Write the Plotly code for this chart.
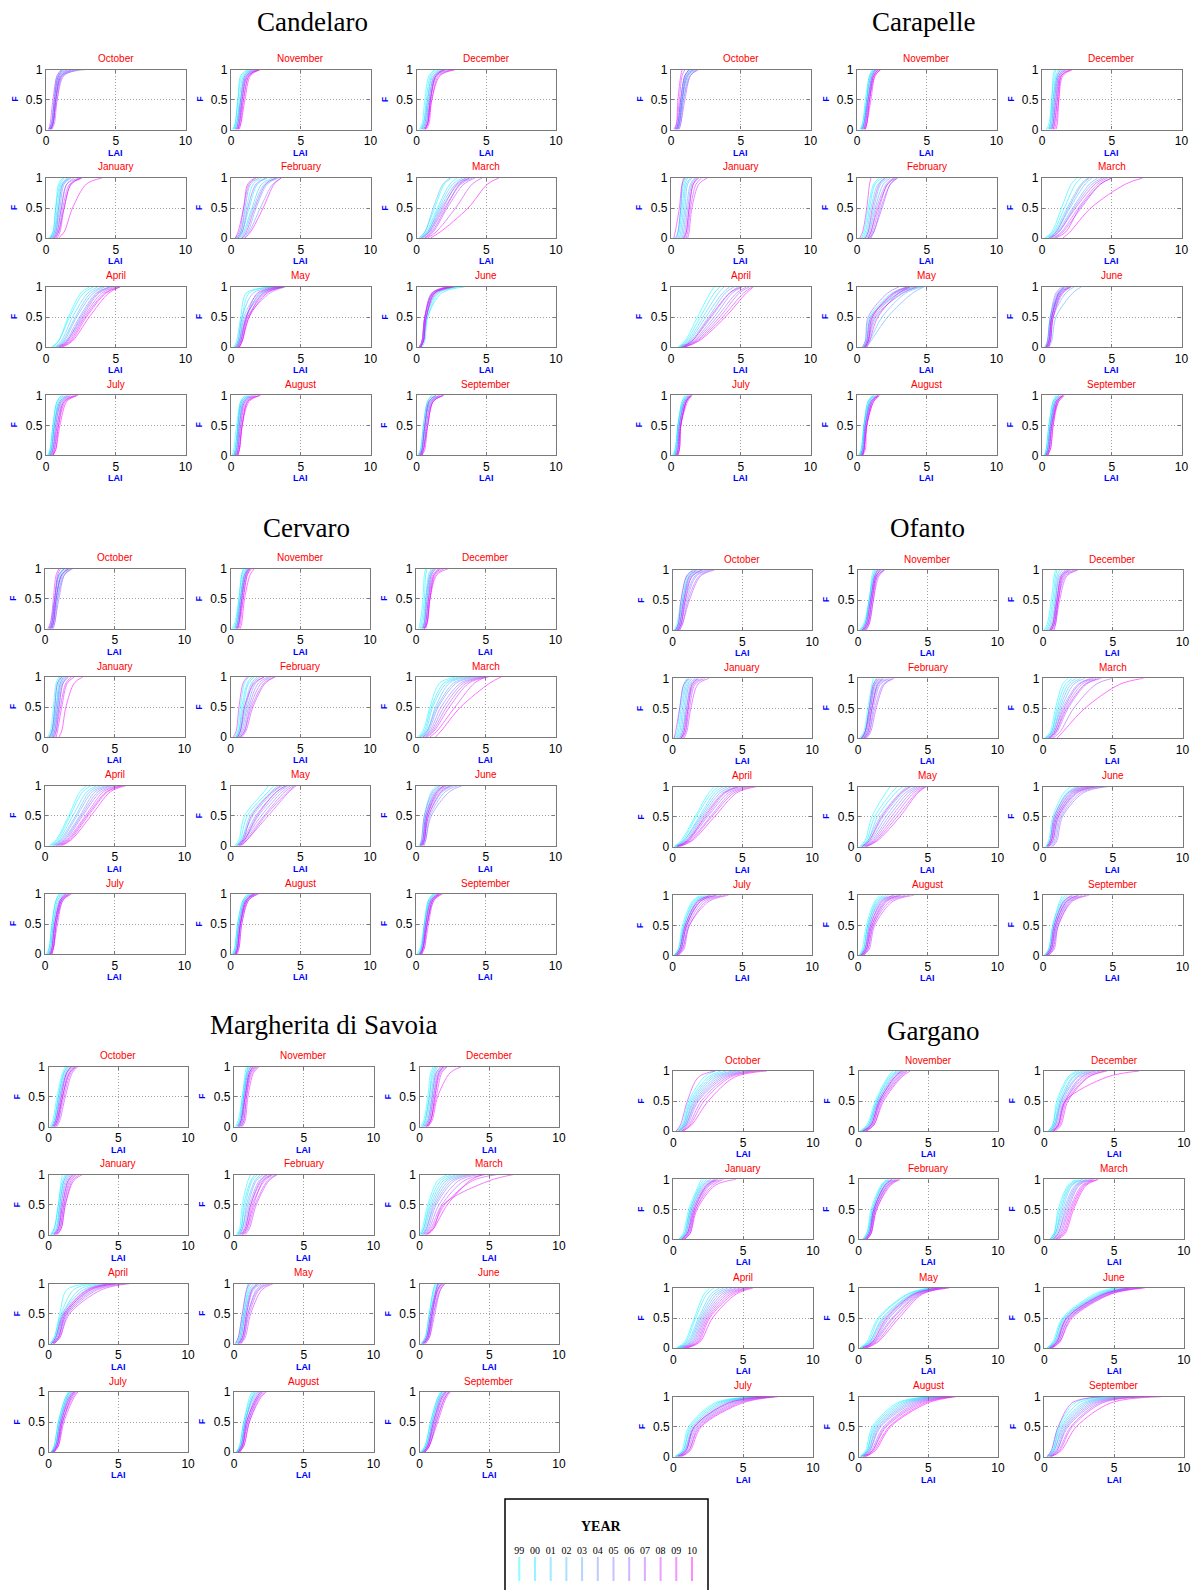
import plotly.graph_objects as go

# ---------------- DATA ----------------
# Each curve = empirical CDF of LAI for one year, given as the LAI value
# (in tenths of LAI units) reached at cumulative frequency F = F_LEVELS.
F_LEVELS = [0.0, 0.1, 0.5, 0.9, 1.0]
YEARS = ["99", "00", "01", "02", "03", "04", "05", "06", "07", "08", "09", "10"]
MONTH_GRID = [["October", "November", "December"],
              ["January", "February", "March"],
              ["April", "May", "June"],
              ["July", "August", "September"]]
BASINS = ["Candelaro", "Carapelle", "Cervaro", "Ofanto", "Margherita di Savoia", "Gargano"]

CANDELARO = {
 "October": [[3,4,6,9,14],[2,4,6,8,12],[3,5,7,10,16],[4,5,7,11,20],[3,5,7,12,29],[2,4,6,9,13],[4,5,8,13,25],[3,5,7,10,15],[2,4,6,9,12],[4,6,8,12,22],[2,3,5,8,11],[3,5,7,11,18]],
 "November": [[1,3,5,8,13],[2,3,5,7,12],[2,4,6,9,14],[3,4,7,10,16],[3,5,7,10,15],[4,5,7,11,17],[4,5,8,11,18],[4,6,8,12,19],[5,6,9,13,20],[5,6,8,12,21],[6,7,9,13,20],[5,7,10,14,21]],
 "December": [[2,4,6,9,13],[3,5,7,10,14],[3,5,8,11,16],[4,6,8,12,18],[4,6,9,13,20],[5,7,9,13,19],[5,7,10,14,22],[6,8,10,14,21],[6,8,10,15,25],[6,8,11,16,28],[6,8,10,14,20],[7,9,11,17,28]],
 "January": [[2,5,7,9,12],[3,5,7,10,13],[4,6,8,11,15],[3,6,9,12,17],[4,7,9,12,16],[5,7,10,13,18],[5,8,11,15,20],[6,8,11,15,24],[6,9,12,17,25],[7,9,13,18,26],[8,10,13,18,25],[9,13,19,29,40]],
 "February": [[4,7,11,16,22],[5,8,13,19,26],[6,9,15,22,30],[7,10,16,24,33],[8,12,18,26,34],[9,13,21,30,36],[4,7,10,14,20],[3,6,9,13,18],[5,8,12,18,25],[8,11,17,25,32],[3,5,9,12,17],[10,14,23,31,36]],
 "March": [[2,6,13,20,25],[3,7,15,24,29],[4,8,16,26,33],[2,6,12,19,24],[3,8,17,28,35],[5,9,18,30,38],[6,10,20,32,40],[4,9,19,29,36],[7,12,22,34,42],[8,14,28,40,47],[6,11,21,31,38],[10,17,37,51,59]],
 "April": [[5,9,16,25,31],[4,9,17,27,34],[6,11,19,30,37],[7,12,21,32,40],[8,13,22,34,42],[8,14,24,36,45],[9,15,25,37,46],[9,15,26,38,48],[10,16,27,40,50],[10,17,28,42,52],[11,18,29,43,53],[12,19,31,45,53]],
 "May": [[3,5,8,13,30],[2,4,7,11,28],[4,6,9,20,35],[5,7,11,22,37],[3,5,8,16,32],[4,6,10,24,38],[5,7,12,28,39],[4,6,11,21,35],[6,8,12,25,38],[6,8,13,23,36],[5,7,11,19,33],[6,8,13,26,37]],
 "June": [[3,5,8,16,30],[4,6,8,18,34],[3,5,7,15,28],[3,4,7,13,25],[2,4,6,12,24],[3,4,6,11,22],[3,5,7,13,26],[2,4,6,12,23],[3,5,7,14,27],[2,4,6,11,21],[3,5,6,12,24],[3,5,7,13,26]],
 "July": [[1,3,5,8,12],[2,3,5,8,11],[2,4,6,9,13],[2,4,6,10,14],[3,4,6,10,15],[3,5,7,11,16],[3,5,7,11,17],[4,5,8,12,18],[4,6,8,13,20],[5,6,9,13,22],[5,7,9,14,22],[5,7,10,15,23]],
 "August": [[1,2,4,7,10],[2,3,5,7,11],[2,3,5,8,12],[2,4,5,8,13],[3,4,6,9,14],[3,4,6,9,15],[3,5,6,10,16],[4,5,7,10,17],[4,5,7,11,18],[4,6,8,12,20],[5,6,8,12,21],[5,6,8,13,21]],
 "September": [[2,3,5,8,12],[2,4,6,9,13],[1,3,5,8,11],[2,4,6,9,14],[3,4,6,10,15],[3,5,7,11,16],[2,4,6,10,17],[3,5,7,11,18],[3,5,8,12,19],[4,5,8,12,20],[3,4,6,9,14],[4,6,8,12,19]],
}

CARAPELLE = {
 "October": [[3,5,7,10,14],[4,5,8,11,16],[3,5,7,10,13],[4,6,8,12,17],[5,6,9,13,18],[5,7,9,14,20],[4,6,8,11,15],[5,6,8,12,16],[6,7,10,14,19],[2,4,6,8,10],[3,4,5,7,8],[4,5,7,10,13]],
 "November": [[2,4,6,9,11],[3,4,7,9,12],[3,5,7,10,13],[3,5,7,10,12],[4,5,8,11,14],[4,5,8,11,13],[4,6,8,11,14],[5,6,8,12,15],[5,6,9,12,16],[5,7,9,13,17],[6,7,9,12,15],[6,7,10,13,17]],
 "December": [[3,5,7,8,9],[4,6,7,9,10],[5,6,8,10,12],[5,7,8,11,13],[6,7,9,11,14],[6,8,9,12,15],[7,8,10,12,16],[7,8,10,13,17],[8,9,11,13,18],[8,9,11,14,20],[9,10,12,15,22],[10,11,12,14,21]],
 "January": [[3,5,7,9,11],[5,6,8,10,12],[6,7,9,11,14],[7,8,10,12,15],[8,9,11,14,17],[9,10,12,15,18],[4,5,7,8,9],[10,11,13,16,20],[11,12,14,18,22],[12,13,15,20,26],[2,3,6,8,10],[9,11,13,16,19]],
 "February": [[3,5,8,12,16],[4,6,9,13,18],[5,7,10,15,20],[6,8,12,17,22],[7,9,13,19,24],[8,10,14,21,26],[9,11,16,22,28],[9,12,17,24,29],[10,12,18,24,29],[6,8,11,16,20],[2,4,7,9,10],[8,10,15,22,27]],
 "March": [[2,7,14,21,25],[3,8,16,24,28],[4,9,18,28,33],[5,10,20,31,36],[6,11,22,34,40],[7,12,23,36,43],[5,10,19,29,34],[8,14,26,40,47],[9,15,28,42,50],[6,12,24,38,45],[10,17,27,42,50],[15,20,35,60,72]],
 "April": [[5,10,19,28,31],[6,11,21,31,35],[6,12,23,34,38],[7,13,25,37,42],[7,14,27,39,45],[8,15,29,42,48],[8,16,31,44,51],[9,17,33,47,54],[9,18,35,49,56],[10,19,37,52,58],[8,15,28,42,50],[10,20,39,54,59]],
 "May": [[4,6,9,25,35],[5,7,10,30,40],[5,8,14,32,45],[6,9,18,35,47],[7,10,22,40,48],[5,7,11,28,38],[6,8,12,30,42],[4,6,8,22,30],[5,7,10,27,37],[6,8,13,33,43],[7,9,15,30,38],[6,8,11,26,36]],
 "June": [[3,4,6,12,16],[3,5,7,13,18],[4,5,7,14,20],[4,6,8,17,23],[5,7,10,22,28],[3,4,6,11,15],[2,4,6,10,14],[3,5,7,12,17],[4,5,7,13,19],[5,6,8,15,21],[3,5,7,12,16],[4,6,8,14,20]],
 "July": [[1,3,5,8,10],[2,3,5,8,11],[2,4,5,9,12],[3,4,6,9,12],[3,4,6,10,13],[3,5,6,10,14],[4,5,6,10,13],[4,5,7,11,14],[4,5,7,11,15],[5,6,7,11,15],[5,6,7,12,15],[4,6,7,11,14]],
 "August": [[1,3,5,8,11],[2,3,5,8,12],[2,4,5,9,12],[2,4,6,9,13],[3,4,6,10,14],[3,4,6,10,14],[3,5,6,10,15],[3,5,6,11,15],[4,5,7,11,16],[4,5,7,11,15],[4,5,7,12,16],[4,6,7,12,16]],
 "September": [[2,3,5,8,10],[2,3,5,8,11],[2,4,6,9,12],[2,4,6,9,12],[3,4,6,10,13],[3,4,6,10,14],[3,5,7,10,14],[3,5,7,11,15],[3,5,7,11,15],[4,5,7,12,16],[4,6,8,12,16],[4,6,8,11,15]],
}

CERVARO = {
 "October": [[3,5,7,10,13],[4,5,8,11,15],[4,6,8,12,16],[5,6,9,13,18],[5,7,9,14,20],[3,4,7,10,14],[4,5,7,10,14],[5,6,8,12,17],[6,7,10,14,19],[2,4,6,8,10],[3,5,7,9,11],[4,6,8,12,17]],
 "November": [[1,3,6,8,9],[2,4,6,8,10],[3,4,7,9,11],[3,5,7,10,12],[4,5,7,10,12],[4,5,8,10,13],[4,6,8,11,13],[5,6,8,11,14],[5,6,8,11,13],[5,6,9,12,14],[6,7,9,12,15],[7,8,10,14,17]],
 "December": [[2,3,5,6,7],[3,4,6,7,8],[4,5,7,9,11],[4,6,7,10,12],[5,6,8,10,13],[5,6,8,11,14],[5,7,9,11,14],[6,7,9,12,16],[6,7,9,13,18],[6,8,10,14,20],[7,8,10,15,23],[6,8,10,13,17]],
 "January": [[2,4,6,8,10],[3,5,7,9,11],[4,5,8,10,12],[4,6,8,11,13],[5,6,9,11,14],[5,7,9,12,15],[6,7,10,13,16],[6,8,10,13,17],[3,5,7,9,12],[7,8,11,15,19],[8,9,12,16,21],[10,12,15,21,27]],
 "February": [[3,5,7,10,13],[4,6,8,12,15],[4,6,9,13,17],[5,7,10,15,19],[5,7,11,16,21],[6,8,12,18,24],[6,9,13,20,27],[7,10,14,22,29],[7,10,15,24,31],[8,11,16,25,32],[2,4,6,9,12],[5,7,10,17,24]],
 "March": [[1,5,10,17,28],[2,6,11,20,31],[3,7,12,22,34],[3,8,14,24,37],[4,8,15,27,40],[5,9,16,29,43],[5,10,18,32,46],[6,11,20,34,48],[7,12,22,36,50],[8,13,24,38,52],[10,15,28,42,50],[14,18,32,53,61]],
 "April": [[3,8,17,25,30],[4,9,18,27,33],[5,10,20,30,37],[6,11,22,32,40],[6,12,23,34,43],[7,13,25,36,46],[8,14,26,38,48],[8,15,27,40,51],[9,16,29,42,53],[10,17,30,44,55],[11,18,31,45,56],[12,19,33,47,58]],
 "May": [[3,6,10,24,27],[4,7,12,27,31],[4,8,14,29,34],[5,8,16,31,37],[5,9,18,33,39],[6,10,20,35,41],[6,10,22,37,43],[7,11,24,39,45],[7,12,25,41,46],[8,12,27,42,47],[5,9,15,30,36],[6,10,19,33,40]],
 "June": [[2,4,6,11,15],[3,5,7,13,18],[3,5,7,15,21],[4,6,8,17,24],[4,6,9,19,27],[5,7,10,21,30],[6,7,11,24,33],[3,4,6,12,17],[4,5,7,14,20],[3,5,8,16,22],[4,6,8,15,20],[5,6,9,18,25]],
 "July": [[1,3,5,8,10],[2,3,5,8,11],[2,4,6,9,12],[3,4,6,10,13],[3,5,7,11,14],[3,5,7,11,15],[4,5,7,12,16],[4,6,8,12,17],[4,6,8,13,18],[5,6,9,13,19],[5,6,8,12,17],[4,5,7,11,15]],
 "August": [[1,3,5,9,12],[2,3,5,9,13],[2,4,6,10,14],[3,4,6,10,15],[3,4,6,11,16],[3,5,7,11,17],[4,5,7,12,18],[4,5,7,12,18],[4,6,8,13,19],[5,6,8,13,20],[4,5,7,12,17],[3,5,7,11,16]],
 "September": [[1,3,6,9,12],[2,4,6,9,13],[2,4,6,10,14],[2,4,7,10,14],[3,4,7,11,15],[3,5,7,11,16],[3,5,8,12,17],[3,5,8,12,17],[4,6,8,13,18],[4,6,9,13,19],[3,5,7,11,16],[4,5,8,12,17]],
}

OFANTO = {
 "October": [[1,3,6,10,14],[2,4,7,11,16],[2,4,7,12,18],[3,5,8,13,20],[3,5,8,14,22],[4,6,9,16,24],[4,6,10,17,26],[5,7,11,19,28],[5,7,12,20,30],[3,5,8,12,17],[2,4,6,10,15],[4,6,9,14,21]],
 "November": [[1,4,8,10,11],[2,5,8,11,12],[2,5,8,11,13],[3,5,9,12,14],[3,6,9,12,15],[4,6,9,13,16],[4,7,10,13,17],[5,7,10,14,18],[5,8,11,14,19],[6,8,11,15,19],[3,6,9,12,14],[4,7,10,13,16]],
 "December": [[1,3,6,8,9],[2,4,7,9,10],[3,5,8,10,12],[4,6,9,11,14],[5,7,9,12,16],[5,7,10,13,18],[6,8,10,14,20],[6,8,11,15,22],[7,9,11,16,24],[8,9,12,17,25],[6,8,11,14,19],[5,7,10,13,17]],
 "January": [[1,3,5,8,10],[2,4,6,9,11],[3,5,7,10,13],[4,6,8,11,14],[5,7,9,12,16],[5,7,10,13,17],[6,8,10,14,19],[6,9,11,15,21],[7,9,12,16,23],[8,10,13,18,26],[1,2,5,8,12],[6,8,11,14,18]],
 "February": [[1,4,7,10,11],[2,5,8,11,13],[3,5,8,12,15],[3,6,9,13,17],[4,6,10,14,19],[4,7,10,15,21],[5,8,11,16,23],[5,8,12,18,25],[6,9,13,19,26],[3,5,9,12,16],[2,5,8,11,14],[4,7,10,14,18]],
 "March": [[1,5,9,14,18],[2,6,10,16,21],[2,6,11,18,24],[3,7,12,20,27],[3,7,13,22,30],[4,8,14,25,34],[5,9,16,28,38],[6,10,18,31,42],[7,12,22,38,50],[4,8,15,26,36],[5,9,17,30,40],[10,14,30,55,72]],
 "April": [[1,6,16,26,30],[1,7,17,28,33],[2,8,19,30,36],[2,8,20,32,39],[2,9,21,34,42],[3,10,22,36,45],[3,10,24,38,48],[3,11,25,40,51],[4,12,27,42,54],[4,13,28,44,57],[5,14,30,46,60],[3,11,23,37,47]],
 "May": [[1,5,10,20,23],[2,6,12,24,28],[2,7,14,27,32],[3,7,16,30,35],[3,8,18,32,38],[4,9,20,34,41],[4,10,22,36,43],[5,11,24,38,45],[5,12,26,40,47],[6,13,28,42,48],[6,14,30,43,49],[3,8,17,31,37]],
 "June": [[2,4,7,15,20],[2,5,8,17,24],[3,5,9,19,28],[3,6,10,21,32],[4,7,11,23,36],[5,8,12,25,40],[6,9,13,27,43],[7,10,14,29,46],[3,5,8,18,26],[4,6,9,20,30],[3,6,10,22,34],[4,7,11,24,38]],
 "July": [[1,4,7,14,20],[1,4,8,15,22],[2,5,8,16,24],[2,5,9,17,26],[2,5,9,18,28],[3,6,10,19,30],[3,6,10,20,32],[3,7,11,22,35],[4,7,12,24,38],[4,8,12,26,40],[2,5,9,18,27],[3,6,10,20,31]],
 "August": [[1,3,6,12,16],[1,4,7,13,18],[2,4,7,14,20],[2,5,8,15,22],[2,5,8,16,25],[3,6,9,18,28],[3,6,10,19,31],[3,7,11,21,34],[4,7,11,23,37],[4,8,12,25,40],[2,5,9,17,26],[3,6,10,20,30]],
 "September": [[1,4,7,12,14],[1,4,7,13,16],[2,5,8,14,18],[2,5,8,15,20],[2,5,9,16,22],[3,6,9,17,24],[3,6,10,18,26],[3,7,10,19,28],[4,7,11,20,31],[4,8,11,21,33],[2,5,8,15,21],[3,6,9,17,25]],
}

MARGHERITA = {
 "October": [[1,3,6,10,12],[2,4,7,11,13],[2,4,7,11,14],[3,5,8,12,15],[3,5,8,13,16],[4,6,9,13,17],[4,6,10,14,18],[5,7,10,15,19],[5,7,11,16,20],[6,8,12,17,21],[3,5,9,13,16],[4,6,10,15,19]],
 "November": [[1,3,6,8,9],[2,4,6,9,10],[2,4,7,9,11],[3,5,7,10,12],[3,5,7,10,12],[4,5,8,11,13],[4,6,8,11,14],[4,6,8,12,15],[5,7,9,12,16],[5,7,9,13,17],[6,8,10,14,18],[3,5,8,11,14]],
 "December": [[1,3,6,8,10],[2,4,7,9,11],[2,4,7,10,12],[3,5,8,11,13],[3,6,9,12,15],[4,6,9,12,16],[4,7,10,13,17],[5,7,10,14,18],[5,8,11,15,19],[6,8,12,16,20],[6,9,13,22,30],[5,8,11,14,17]],
 "January": [[1,4,7,9,10],[2,4,7,10,12],[2,5,8,11,13],[3,6,8,11,14],[3,6,9,12,15],[4,7,9,13,16],[4,7,10,14,17],[5,8,11,15,19],[5,8,11,16,20],[6,9,12,17,22],[6,9,12,18,24],[4,7,10,14,18]],
 "February": [[2,4,6,10,12],[2,5,7,12,15],[3,5,8,13,17],[3,6,9,15,19],[4,6,10,16,21],[4,7,11,18,23],[5,8,12,20,26],[6,9,13,22,28],[7,10,15,24,30],[8,11,16,25,31],[5,8,12,19,24],[6,9,14,21,27]],
 "March": [[0,2,6,13,20],[1,3,7,15,23],[1,3,8,17,26],[2,4,9,19,29],[2,5,10,21,32],[3,5,11,23,35],[3,6,12,25,38],[4,7,14,28,42],[4,8,16,32,47],[5,9,18,38,55],[5,10,17,50,67],[6,10,20,36,45]],
 "April": [[1,4,8,13,28],[1,4,9,18,32],[2,5,10,22,36],[2,5,10,25,40],[2,6,11,27,43],[3,6,12,29,46],[3,7,13,31,49],[3,7,13,33,52],[4,8,14,35,55],[4,8,15,38,58],[2,5,11,28,44],[3,7,12,30,48]],
 "May": [[1,3,6,9,10],[2,4,7,10,12],[2,4,7,11,14],[3,5,8,12,16],[3,5,8,13,18],[3,6,9,14,20],[4,6,10,16,22],[4,7,10,17,24],[5,7,11,18,26],[5,8,12,20,28],[1,3,6,9,11],[3,6,9,13,17]],
 "June": [[1,4,7,10,11],[1,4,7,10,12],[2,5,8,11,13],[2,5,8,12,14],[2,5,9,12,14],[3,6,9,13,15],[3,6,9,13,16],[3,6,10,14,17],[4,7,10,15,18],[4,7,11,15,18],[2,5,8,12,13],[3,6,9,13,16]],
 "July": [[2,4,7,12,14],[2,4,7,12,15],[2,5,8,13,15],[2,5,8,13,16],[3,5,8,14,17],[3,5,9,14,17],[3,6,9,15,18],[3,6,10,16,19],[4,6,10,16,19],[4,7,10,17,20],[4,7,11,18,21],[3,6,9,15,18]],
 "August": [[2,4,7,11,13],[2,4,7,12,14],[2,5,8,13,15],[2,5,8,13,16],[3,5,8,14,17],[3,5,9,15,18],[3,6,9,16,19],[3,6,10,17,20],[4,6,10,17,21],[4,7,11,18,22],[4,7,11,19,23],[3,6,9,16,19]],
 "September": [[1,4,8,13,15],[1,4,8,13,16],[2,5,9,14,16],[2,5,9,14,17],[2,5,10,15,18],[3,6,10,15,18],[3,6,11,16,19],[3,6,11,17,20],[4,7,12,18,21],[4,7,12,18,21],[4,7,13,19,22],[3,6,10,16,19]],
}

GARGANO = {
 "October": [[2,6,11,22,30],[3,7,12,25,34],[3,7,13,27,38],[4,8,14,29,42],[4,8,15,31,45],[5,9,16,33,48],[5,9,17,35,52],[6,10,18,37,55],[6,11,20,39,58],[7,12,22,41,62],[2,5,10,18,30],[7,13,25,44,67]],
 "November": [[1,6,12,21,25],[2,7,13,22,27],[2,7,13,23,28],[3,8,14,24,29],[3,8,14,25,30],[4,9,15,26,31],[4,9,15,27,32],[4,10,16,28,33],[5,10,16,29,34],[5,11,17,30,35],[6,11,18,31,37],[3,9,15,26,31]],
 "December": [[3,6,9,17,23],[3,6,10,18,25],[4,7,11,20,27],[4,7,12,21,29],[5,8,12,23,31],[5,8,13,24,33],[6,9,14,26,35],[6,10,15,27,37],[7,10,15,29,40],[7,11,16,31,43],[8,12,17,32,45],[6,10,15,45,68]],
 "January": [[4,7,11,18,20],[4,8,12,19,22],[5,8,12,20,24],[5,9,13,21,26],[6,9,13,22,27],[6,10,14,23,29],[6,10,14,24,30],[7,11,15,25,32],[7,11,16,26,34],[8,12,16,28,36],[8,12,17,30,45],[6,10,15,24,31]],
 "February": [[3,6,9,16,20],[3,6,10,17,21],[4,7,10,17,22],[4,7,11,18,23],[4,7,11,19,24],[5,8,11,19,25],[5,8,12,20,26],[5,8,12,21,27],[6,9,12,21,28],[6,9,13,22,29],[6,9,13,23,30],[5,8,11,19,24]],
 "March": [[4,7,10,17,23],[4,7,11,18,25],[5,8,12,19,27],[5,8,13,20,28],[6,9,14,22,30],[6,10,15,23,31],[7,10,16,24,33],[7,11,17,25,34],[8,12,18,27,35],[8,13,19,28,36],[9,14,20,29,38],[10,15,21,30,39]],
 "April": [[2,8,15,22,26],[3,9,16,24,29],[3,10,18,27,33],[4,11,19,29,36],[5,12,20,31,39],[5,13,21,33,42],[6,14,22,35,45],[7,15,23,37,48],[7,16,24,39,51],[8,17,25,41,53],[9,18,26,43,55],[10,19,28,45,57]],
 "May": [[1,6,14,35,50],[1,7,15,36,52],[2,8,17,38,53],[2,8,18,39,55],[3,9,19,40,56],[3,10,21,41,58],[4,11,22,42,59],[4,11,24,43,60],[5,12,25,44,62],[5,13,27,45,63],[6,14,29,46,65],[3,10,20,40,57]],
 "June": [[2,6,13,36,50],[2,7,14,38,53],[3,7,14,40,56],[3,8,15,41,58],[3,8,16,42,60],[4,9,16,43,62],[4,9,17,44,64],[5,10,18,45,66],[5,10,18,46,68],[5,11,19,47,70],[6,11,20,48,72],[4,9,16,43,61]],
 "July": [[1,6,11,30,60],[1,7,12,32,62],[2,7,13,34,63],[2,8,14,36,65],[3,8,15,38,66],[3,9,15,40,68],[4,9,16,42,69],[4,10,17,44,70],[5,11,18,46,72],[5,11,19,48,73],[6,12,20,50,75],[3,9,15,40,67]],
 "August": [[1,5,10,28,50],[1,6,11,30,52],[2,6,12,32,54],[2,7,13,34,56],[2,7,14,36,58],[3,8,15,38,60],[3,8,16,40,62],[3,9,18,42,64],[4,10,19,44,66],[4,10,20,46,67],[5,11,22,48,68],[5,12,23,50,70]],
 "September": [[2,5,10,22,40],[2,6,11,25,44],[2,6,12,28,48],[3,7,13,30,52],[3,7,14,32,56],[3,8,15,34,60],[4,9,16,36,64],[4,9,17,38,68],[4,10,19,40,72],[5,11,20,42,76],[2,5,10,20,42],[5,12,23,48,84]],
}

BASIN_DATA = [CANDELARO, CARAPELLE, CERVARO, OFANTO, MARGHERITA, GARGANO]

# ---------------- LAYOUT (pixel geometry) ----------------
W, H = 1200, 1590
AX_W, AX_H = 139.5, 60
BLOCKS = [
    dict(lefts=[46, 231, 416.5], tops=[69.5, 178, 287, 395.3], title=(312, 22)),
    dict(lefts=[671, 857, 1042], tops=[69.5, 178, 287, 395.3], title=(923, 22)),
    dict(lefts=[45, 230.6, 416], tops=[568.7, 677, 785.7, 894], title=(306, 528)),
    dict(lefts=[672.7, 858, 1043], tops=[570, 678.3, 786.7, 895.3], title=(927, 528)),
    dict(lefts=[48.6, 234, 419.5], tops=[1066.7, 1174.7, 1283.7, 1392], title=(323, 1025)),
    dict(lefts=[673.4, 858.5, 1044.3], tops=[1071, 1179.3, 1288, 1396.7], title=(933, 1031)),
]


def px(x):
    return x / W


def py(y):
    return 1 - y / H


def cool(i, n=len(YEARS)):
    t = i / (n - 1)
    return "rgb(%d,%d,255)" % (round(255 * t), round(255 * (1 - t)))


SANS = "Liberation Sans, Arial, sans-serif"
SERIF = "Liberation Serif, Times New Roman, serif"
AXCOL = "#7a7a7a"

fig = go.Figure()
layout = dict(width=W, height=H, margin=dict(l=0, r=0, t=0, b=0, pad=0, autoexpand=False),
              paper_bgcolor="white", plot_bgcolor="white", showlegend=False)
annotations = []
k = 0
for b, (name, data, blk) in enumerate(zip(BASINS, BASIN_DATA, BLOCKS)):
    annotations.append(dict(text=name, x=px(blk["title"][0]), y=py(blk["title"][1]),
                            xref="paper", yref="paper", showarrow=False,
                            xanchor="center", yanchor="middle",
                            font=dict(family=SERIF, size=27, color="black")))
    for r, row in enumerate(MONTH_GRID):
        for c, month in enumerate(row):
            k += 1
            l = blk["lefts"][c]
            t = blk["tops"][r]
            xa = "x" if k == 1 else "x%d" % k
            ya = "y" if k == 1 else "y%d" % k
            common = dict(showline=True, mirror="ticks", linecolor=AXCOL, linewidth=1.4,
                          ticks="inside", ticklen=3, tickcolor=AXCOL, automargin=False,
                          showgrid=True, gridcolor="#a0a0a0", griddash="1px,2px", gridwidth=1,
                          zeroline=False, fixedrange=True,
                          tickfont=dict(family=SANS, size=12, color="black"))
            layout["xaxis" if k == 1 else "xaxis%d" % k] = dict(
                domain=[px(l), px(l + AX_W)], range=[0, 10], tickvals=[0, 5, 10],
                anchor=ya, **common)
            layout["yaxis" if k == 1 else "yaxis%d" % k] = dict(
                domain=[py(t + AX_H), py(t)], range=[0, 1], tickvals=[0, 0.5, 1],
                ticktext=["0", "0.5", "1"], anchor=xa, **common)
            for i, q in enumerate(data[month]):
                fig.add_trace(go.Scatter(
                    x=[v / 10 for v in q], y=F_LEVELS, xaxis=xa, yaxis=ya,
                    mode="lines", line=dict(color=cool(i), width=0.9, shape="spline", smoothing=0.9),
                    opacity=0.62, hoverinfo="skip"))
            annotations.append(dict(text=month, x=px(l + AX_W / 2), y=py(t - 11),
                                    xref="paper", yref="paper", showarrow=False,
                                    xanchor="center", yanchor="middle",
                                    font=dict(family=SANS, size=10, color="#ff0000")))
            annotations.append(dict(text="<b>LAI</b>", x=px(l + AX_W / 2), y=py(t + AX_H + 23),
                                    xref="paper", yref="paper", showarrow=False,
                                    xanchor="center", yanchor="middle",
                                    font=dict(family=SANS, size=9, color="#0000ff")))
            annotations.append(dict(text="<b>F</b>", x=px(l - 32), y=py(t + AX_H / 2),
                                    xref="paper", yref="paper", showarrow=False,
                                    xanchor="center", yanchor="middle", textangle=-90,
                                    font=dict(family=SANS, size=8.5, color="#0000ff")))

# ---------------- YEAR legend ----------------
k += 1
LEG_L, LEG_R, LEG_T = 505, 708, 1499
layout["xaxis%d" % k] = dict(domain=[px(LEG_L), px(LEG_R)], range=[-0.91, 12.02],
                             tickvals=list(range(len(YEARS))), ticktext=YEARS, side="top",
                             showline=False, showgrid=False, zeroline=False, ticks="",
                             anchor="y%d" % k, fixedrange=True, automargin=False,
                             tickfont=dict(family=SERIF, size=10, color="black"))
layout["yaxis%d" % k] = dict(domain=[py(1581), py(1557)], range=[0, 1], visible=False,
                             anchor="x%d" % k, fixedrange=True, automargin=False)
for i, yr in enumerate(YEARS):
    fig.add_trace(go.Scatter(x=[i, i], y=[0, 1], xaxis="x%d" % k, yaxis="y%d" % k,
                             mode="lines", line=dict(color=cool(i), width=2),
                             opacity=0.45, hoverinfo="skip"))
annotations.append(dict(text="<b>YEAR</b>", x=px((LEG_L + LEG_R) / 2 - 5), y=py(1526),
                        xref="paper", yref="paper", showarrow=False,
                        xanchor="center", yanchor="middle",
                        font=dict(family=SERIF, size=14, color="black")))
layout["shapes"] = [dict(type="rect", xref="paper", yref="paper",
                         x0=px(LEG_L), x1=px(LEG_R), y0=py(1600), y1=py(LEG_T),
                         line=dict(color="black", width=1.5), fillcolor="rgba(0,0,0,0)")]
layout["annotations"] = annotations
fig.update_layout(**layout)
fig.write_html("out.html")
